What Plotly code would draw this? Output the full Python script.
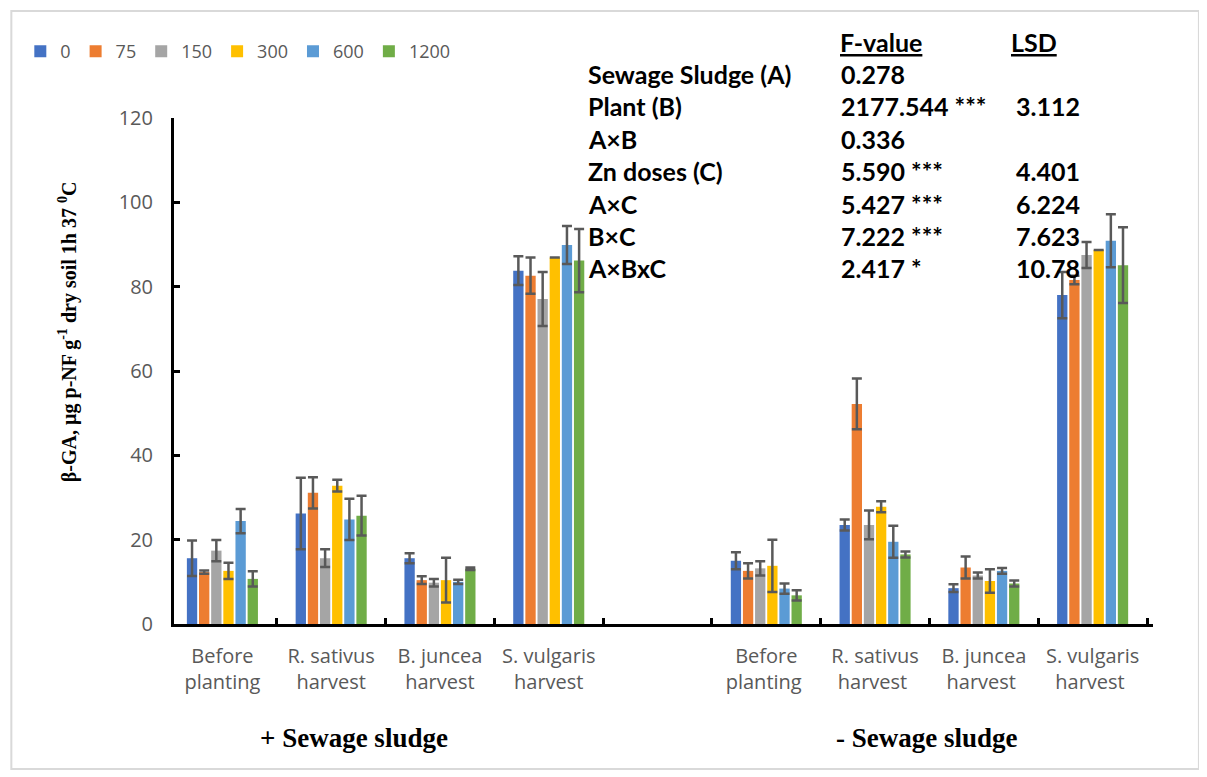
import plotly.graph_objects as go

# ---------------- data ----------------
categories = ["Before<br>planting", "R. sativus<br>harvest", "B. juncea<br>harvest", "S. vulgaris<br>harvest",
              " ",
              "Before<br>planting ", "R. sativus<br>harvest ", "B. juncea<br>harvest ", "S. vulgaris<br>harvest "]
bar_categories = [c for c in categories if c.strip() != ""]

series_names = ["0", "75", "150", "300", "600", "1200"]
series_colors = ["#4472C4", "#ED7D31", "#A5A5A5", "#FFC000", "#5B9BD5", "#70AD47"]

vals_0 = [15.6, 26.2, 15.6, 83.8, 15.0, 23.5, 8.5, 78.0]
err_0 = [4.2, 8.5, 1.2, 3.4, 2.0, 1.3, 0.9, 5.5]
vals_75 = [12.3, 31.1, 10.4, 82.6, 12.6, 52.2, 13.4, 81.6]
err_75 = [0.4, 3.7, 0.9, 4.3, 1.8, 6.0, 2.6, 1.0]
vals_150 = [17.4, 15.6, 9.8, 77.1, 13.2, 23.5, 11.5, 87.5]
err_150 = [2.5, 2.1, 0.9, 6.4, 1.7, 3.4, 0.7, 3.1]
vals_300 = [12.6, 32.8, 10.4, 86.9, 13.8, 27.8, 10.2, 88.7]
err_300 = [1.9, 1.4, 5.3, 0.0, 6.2, 1.3, 2.8, 0.0]
vals_600 = [24.4, 24.8, 10.0, 89.9, 8.4, 19.5, 12.6, 90.9]
err_600 = [2.9, 4.9, 0.5, 4.5, 1.2, 3.8, 0.7, 6.3]
vals_1200 = [10.7, 25.7, 13.1, 86.2, 6.8, 16.5, 9.6, 85.1]
err_1200 = [1.8, 4.7, 0.3, 7.5, 1.2, 0.7, 0.7, 9.0]

all_vals = [vals_0, vals_75, vals_150, vals_300, vals_600, vals_1200]
all_errs = [err_0, err_75, err_150, err_300, err_600, err_1200]

y_ticks = [0, 20, 40, 60, 80, 100, 120]

stat_effects = ["Sewage Sludge (A)", "Plant (B)", "A×B", "Zn doses (C)", "A×C", "B×C", "A×BxC"]
stat_fvalues = ["0.278", "2177.544 ***", "0.336", "5.590 ***", "5.427 ***", "7.222 ***", "2.417 *"]
stat_lsd = ["", "3.112", "", "4.401", "6.224", "7.623", "10.78"]

group_labels = ["+ Sewage sludge", "- Sewage sludge"]
y_title = "β-GA, µg p-NF g<sup>-1</sup> dry soil 1h 37 <sup>0</sup>C"

# ---------------- figure ----------------
OFF = 8  # page body margin
W, H = 1207 - OFF, 777 - OFF
L = 172 - OFF
T = 118 - OFF
B = H - (624 - OFF)
R = W - (1153 - OFF)
pw, ph = W - L - R, H - T - B

def px_x(x):
    return (x - OFF - L) / pw

def px_y(y):
    return (H - B - (y - OFF)) / ph

fig = go.Figure()
for name, color, v, e in zip(series_names, series_colors, all_vals, all_errs):
    fig.add_trace(go.Bar(
        x=bar_categories, y=v, name=name,
        marker=dict(color=color, line=dict(width=0)),
        error_y=dict(type="data", array=e, visible=True, color="#595959", thickness=2.5, width=5),
    ))

fig.update_layout(
    width=W, height=H,
    margin=dict(l=L, r=R, t=T, b=B),
    paper_bgcolor="white", plot_bgcolor="white",
    barmode="group", bargap=0.33, bargroupgap=0.15,
    showlegend=True,
    legend=dict(orientation="h", x=px_x(18), y=px_y(33), xanchor="left", yanchor="top",
                font=dict(family="Open Sans", size=18, color="#595959"),
                bgcolor="rgba(0,0,0,0)", traceorder="normal"),
    xaxis=dict(type="category", categoryorder="array", categoryarray=categories,
               range=[-0.445, 8.555],
               showline=True, linecolor="black", linewidth=3, mirror=False,
               ticks="inside", tickson="boundaries", ticklen=6, tickwidth=3, tickcolor="black",
               tickangle=0,
               tickfont=dict(family="Open Sans", size=20, color="#595959"),
               showgrid=False, zeroline=False, ticklabelstandoff=12),
    yaxis=dict(range=[0, 120], tickvals=y_ticks, ticktext=[str(t) for t in y_ticks],
               showline=True, linecolor="black", linewidth=3,
               ticks="inside", ticklen=6, tickwidth=3, tickcolor="black",
               tickfont=dict(family="Open Sans", size=20, color="#595959"),
               showgrid=False, zeroline=False, ticklabelstandoff=14),
)

annotations = []
# y-axis title
annotations.append(dict(text="<b>" + y_title + "</b>", xref="paper", yref="paper",
                        x=px_x(65), y=px_y(332), textangle=-90, showarrow=False,
                        xanchor="center", yanchor="middle",
                        font=dict(family="Liberation Serif", size=20, color="black")))
# group labels
for lab, cx in zip(group_labels, [352, 927]):
    annotations.append(dict(text="<b>" + lab + "</b>", xref="paper", yref="paper",
                            x=px_x(cx), y=px_y(738), showarrow=False,
                            xanchor="center", yanchor="middle",
                            font=dict(family="Liberation Serif", size=27, color="black")))
# stats table
stat_font = dict(family="Lato", size=25, color="black")
annotations.append(dict(text="<b><u>F-value</u></b>", xref="paper", yref="paper",
                        x=px_x(837), y=px_y(42), showarrow=False, xanchor="left", yanchor="middle",
                        font=stat_font))
annotations.append(dict(text="<b><u>LSD</u></b>", xref="paper", yref="paper",
                        x=px_x(1009), y=px_y(42), showarrow=False, xanchor="left", yanchor="middle",
                        font=stat_font))
row_y0, row_dy = 74, 32.4
for i, (eff, fv, lsd) in enumerate(zip(stat_effects, stat_fvalues, stat_lsd)):
    yy = px_y(row_y0 + i * row_dy)
    annotations.append(dict(text="<b>" + eff + "</b>", xref="paper", yref="paper",
                            x=px_x(585), y=yy, showarrow=False, xanchor="left", yanchor="middle",
                            font=stat_font))
    annotations.append(dict(text="<b>" + fv + "</b>", xref="paper", yref="paper",
                            x=px_x(838), y=yy, showarrow=False, xanchor="left", yanchor="middle",
                            font=stat_font))
    if lsd:
        annotations.append(dict(text="<b>" + lsd + "</b>", xref="paper", yref="paper",
                                x=px_x(1014), y=yy, showarrow=False, xanchor="left", yanchor="middle",
                                font=stat_font))
fig.update_layout(annotations=annotations)

# outer light border
fig.add_shape(type="rect", xref="paper", yref="paper",
              x0=px_x(9), x1=px_x(1199), y0=px_y(769), y1=px_y(11),
              line=dict(color="#D9D9D9", width=2), fillcolor="rgba(0,0,0,0)", layer="below")

fig.write_html("out.html")
